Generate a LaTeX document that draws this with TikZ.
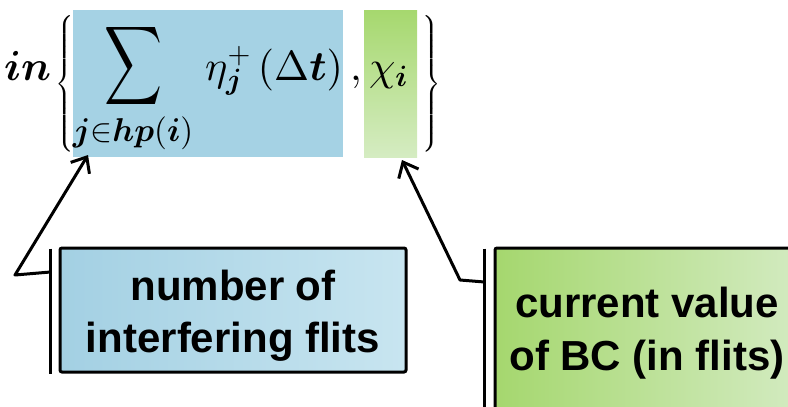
\documentclass[tikz,border=0pt]{standalone}
\DeclareFontFamily{OT1}{cmr}{\hyphenchar\font45 }
\DeclareFontShape{OT1}{cmr}{m}{n}{<-> cmr10}{}
\DeclareFontShape{OT1}{cmr}{m}{it}{<-> cmti10}{}
\DeclareFontShape{OT1}{cmr}{bx}{n}{<-> cmbx10}{}
\DeclareFontShape{OT1}{cmr}{b}{n}{<-> cmbx10}{}
\DeclareFontFamily{OML}{cmm}{\skewchar\font127 }
\DeclareFontShape{OML}{cmm}{m}{it}{<-> cmmi10}{}
\DeclareFontShape{OML}{cmm}{b}{it}{<-> cmmib10}{}
\DeclareFontFamily{OMS}{cmsy}{\skewchar\font48 }
\DeclareFontShape{OMS}{cmsy}{m}{n}{<-> cmsy10}{}
\DeclareFontShape{OMS}{cmsy}{b}{n}{<-> cmbsy10}{}
\DeclareFontFamily{OMX}{cmex}{}
\DeclareFontShape{OMX}{cmex}{m}{n}{<-> cmex10}{}
\usepackage{amsmath}
\usepackage{bm}
\usepackage{graphicx}
\usepackage[no-math]{fontspec}
\setmainfont{Liberation Sans}
\usetikzlibrary{arrows.meta}
\definecolor{mblue}{HTML}{A5D2E4}
\definecolor{lblueA}{HTML}{A3D0E3}
\definecolor{lblueB}{HTML}{C8E5F0}
\definecolor{mgreenA}{HTML}{A6D86E}
\definecolor{mgreenB}{HTML}{D5ECC2}
\definecolor{lgreenA}{HTML}{A5D76E}
\definecolor{lgreenB}{HTML}{D3EBC1}
\begin{document}
\begin{tikzpicture}[x=1pt,y=-1pt,
  mth/.style={font=\fontsize{42}{50}\selectfont, inner sep=0pt},
  lbltext/.style={font=\fontsize{42}{50}\selectfont\bfseries, inner sep=0pt, anchor=base},
  lbox/.style={draw=black, line width=3pt, rounded corners=2pt, inner sep=0pt},
  accent/.style={line width=2.5pt},
  callout/.style={line width=3pt, line join=round,
    -{Straight Barb[length=13pt,width=22pt]}},
  bracenode/.style={inner sep=0pt, font=\fontsize{20}{24}\selectfont}]
\useasboundingbox (0,0) rectangle (788,407);

% highlighted math areas
\node[fill=mblue, minimum width=270pt, minimum height=147pt, inner sep=0pt] (mb) at (208,83.5) {};
\node[top color=mgreenA, bottom color=mgreenB, minimum width=53pt, minimum height=147pt, inner sep=0pt] (mg) at (390.5,83.5) {};

% formula
\node[mth, anchor=base west] (in) at (4,80) {$\bm{in}$};
\node[bracenode] (lbr) at (65,84) {$\delimitershortfall=0pt\left\{\vrule height 60pt depth 60pt width 0pt\right.$};
\node[inner sep=0pt] (sum) at (134,66) {\resizebox*{58pt}{88pt}{$\displaystyle\sum$}};
\node[mth, font=\fontsize{33}{38}\selectfont, anchor=base] (sub) at (133,141) {$\bm{j}{\in}\bm{hp}(\bm{i})$};
\node[mth, anchor=base west] (eta) at (205,80) {$\eta^{+}_{\bm{j}}\,(\Delta\bm{t})$};
\node[mth, anchor=base] (comma) at (356,80) {$,$};
\node[mth, anchor=base west] (chi) at (369,80) {$\chi_{\bm{i}}$};
\node[bracenode] (rbr) at (431,84) {$\delimitershortfall=0pt\left.\vrule height 60pt depth 60pt width 0pt\right\}$};

% label boxes
\node[lbox, left color=lblueA, right color=lblueB, minimum width=346pt, minimum height=124pt] (box1) at (233,310) {};
\node[lbltext] (t1a) at (233,300) {number of};
\node[lbltext] (t1b) at (233,352) {interfering flits};

\node[lbox, left color=lgreenA, right color=lgreenB, minimum width=305pt, minimum height=172pt] (box2) at (647.5,334) {};
\node[lbltext] (t2a) at (647,317) {current value};
\node[lbltext] (t2b) at (647,370) {of BC (in flits)};

% accent bars
\draw[accent] ([xshift=-8pt,yshift=-2pt]box1.north west) -- ([xshift=-8pt]box1.south west);
\draw[accent] ([xshift=-9pt,yshift=-2pt]box2.north west) -- ([xshift=-9pt]box2.south west);

% callout lines
\coordinate (k1) at (15,275);
\coordinate (a1) at (88,155);
\coordinate (k2) at (460,280);
\coordinate (a2) at (402,160);
\draw[callout] ([xshift=-8pt,yshift=38pt]box1.west) -- (k1) -- (a1);
\draw[callout] ([xshift=-9pt,yshift=52pt]box2.west) -- (k2) -- (a2);
\end{tikzpicture}
\end{document}
